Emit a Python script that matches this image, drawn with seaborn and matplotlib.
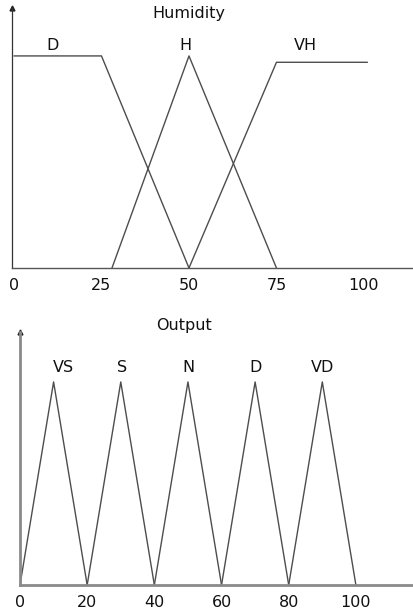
import matplotlib
matplotlib.use("Agg")
import matplotlib.pyplot as plt
import seaborn as sns
import pandas as pd

# ---- data ----
hum_sets = ["D", "H", "VH"]
hum_x = {"D": [0, 25, 50], "H": [28, 50, 75], "VH": [50, 75, 101]}
hum_y = {"D": [1, 1, 0], "H": [0, 1, 0], "VH": [0, 0.97, 0.97]}
hum_ticks = [0, 25, 50, 75, 100]

out_sets = ["VS", "S", "N", "D", "VD"]
out_x = {"VS": [0, 10, 20], "S": [20, 30, 40], "N": [40, 50, 60],
         "D": [60, 70, 80], "VD": [80, 90, 100]}
out_y = {"VS": [0, 1, 0], "S": [0, 1, 0], "N": [0, 1, 0],
         "D": [0, 1, 0], "VD": [0, 1, 0]}
out_ticks = [0, 20, 40, 60, 80, 100]


def long_df(sets, xs, ys):
    rows = []
    for s in sets:
        for i, (x, y) in enumerate(zip(xs[s], ys[s])):
            rows.append({"set": s, "x": x, "y": y, "order": i})
    return pd.DataFrame(rows)


sns.set_style("white")
plt.rcParams["font.family"] = ["DejaVu Sans"]
FS = 11.5

fig = plt.figure(figsize=(4.14, 6.15), dpi=100)
W, H = 414, 615

def add_axes(left, top, right, bottom):
    return fig.add_axes([left / W, 1 - bottom / H, (right - left) / W, (bottom - top) / H])

line_col = "#4d4d4d"

# ---- top panel: Humidity ----
ax1 = add_axes(12, 8, 414, 268)
df1 = long_df(hum_sets, hum_x, hum_y)
sns.lineplot(data=df1, x="x", y="y", hue="set", units="set", estimator=None,
             sort=False, palette=[line_col] * len(hum_sets), legend=False,
             linewidth=1.0, ax=ax1)
ax1.set_xlim(-0.57, 114.3)
ax1.set_ylim(0, 1.226)
ax1.set_xticks(hum_ticks)
ax1.set_xticklabels([str(t) for t in hum_ticks], fontsize=FS, color="#111111")
ax1.set_yticks([])
ax1.tick_params(axis="x", length=0, pad=7)
ax1.set_xlabel("")
ax1.set_ylabel("")
for sp in ["top", "right"]:
    ax1.spines[sp].set_visible(False)
ax1.spines["left"].set_color("#333333")
ax1.spines["left"].set_linewidth(0.9)
ax1.spines["bottom"].set_color("#555555")
ax1.spines["bottom"].set_linewidth(1.0)
ax1.plot([0], [1], marker="^", markersize=3.5, color="#222222",
         transform=ax1.transAxes, clip_on=False)
ax1.text(50, 1.2, "Humidity", ha="center", va="center", fontsize=FS, color="#111111")
for lab, xp in zip(hum_sets, [11, 49, 83.4]):
    ax1.text(xp, 1.05, lab, ha="center", va="center", fontsize=FS, color="#111111")

# ---- bottom panel: Output ----
ax2 = add_axes(20, 332, 414, 585)
df2 = long_df(out_sets, out_x, out_y)
sns.lineplot(data=df2, x="x", y="y", hue="set", units="set", estimator=None,
             sort=False, palette=[line_col] * len(out_sets), legend=False,
             linewidth=1.0, ax=ax2)
ax2.set_xlim(0, 117.3)
ax2.set_ylim(0, 1.246)
ax2.set_xticks(out_ticks)
ax2.set_xticklabels([str(t) for t in out_ticks], fontsize=FS, color="#111111")
ax2.set_yticks([])
ax2.tick_params(axis="x", length=0, pad=7)
ax2.set_xlabel("")
ax2.set_ylabel("")
for sp in ["top", "right"]:
    ax2.spines[sp].set_visible(False)
for sp in ["left", "bottom"]:
    ax2.spines[sp].set_color("#8a8a8a")
    ax2.spines[sp].set_linewidth(2.0)
ax2.plot([0], [1], marker="^", markersize=3.5, color="#222222",
         transform=ax2.transAxes, clip_on=False)
ax2.text(48.8, 1.276, "Output", ha="center", va="center", fontsize=FS,
         color="#111111", clip_on=False)
for lab, xp in zip(out_sets, [12.8, 30.4, 50, 70.2, 90.2]):
    ax2.text(xp, 1.07, lab, ha="center", va="center", fontsize=FS, color="#111111")

fig.savefig("out.png", dpi=100)
